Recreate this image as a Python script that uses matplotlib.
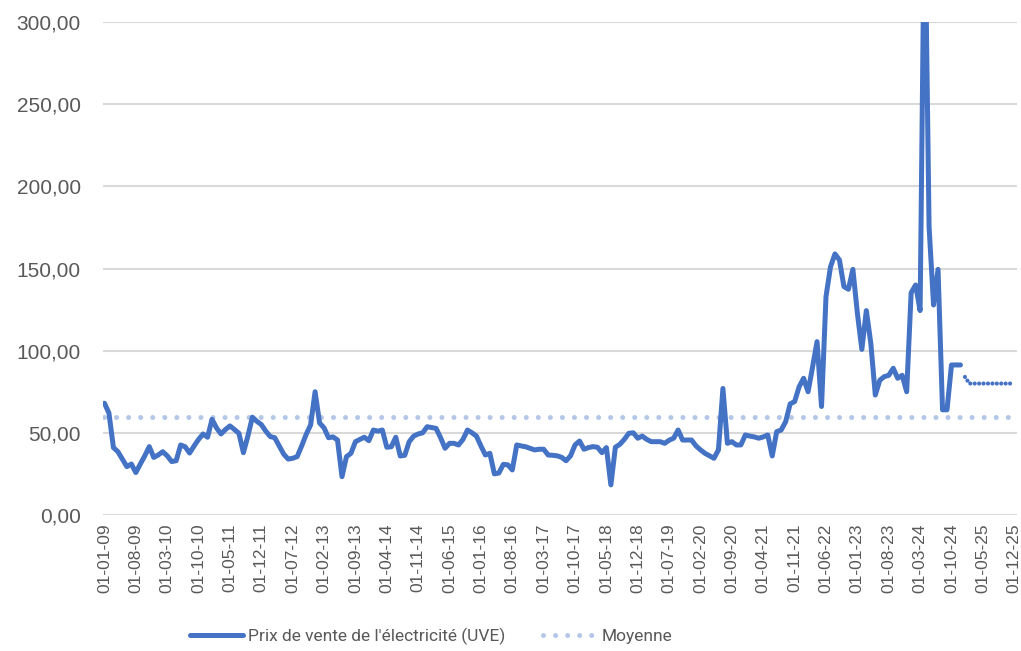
"""Prix de vente de l'électricité (UVE) - série mensuelle avec moyenne."""

import matplotlib.pyplot as plt

# Monthly prices, one row per year (01-2009 .. 12-2024)
prix = [
    68, 62, 41, 38.5, 34, 29.4, 31, 25.8, 31, 36, 41.6, 35,  # 2009
    36.5, 38.5, 36, 32.5, 33, 42.6, 41.5, 37.7, 42, 46, 49.3, 47.3,  # 2010
    58.2, 53, 49.3, 52, 54.2, 52, 49.7, 37.9, 48, 59.5, 57, 55,  # 2011
    51, 47.7, 47, 42, 37, 34, 34.5, 35.5, 42, 49, 54.8, 75,  # 2012
    56, 53, 47, 47.5, 45.6, 23.3, 35.5, 37.5, 44.6, 46, 47.3, 45.2,  # 2013
    51.7, 51, 51.7, 41.2, 41.5, 47.3, 35.9, 36.3, 44.6, 48, 49.3, 50,  # 2014
    53.7, 53.2, 52.7, 47, 40.6, 43.6, 43.6, 42.6, 46, 51.7, 50, 48,  # 2015
    42, 36.5, 37.5, 25, 25.5, 30.8, 30.5, 27.4, 42.6, 42, 41.5, 40.5,  # 2016
    39.6, 40, 40, 36.5, 36.3, 36, 35.1, 33, 36, 42.6, 45, 40,  # 2017
    41, 41.6, 41.2, 37.9, 41, 18.3, 41.2, 43, 46, 49.7, 50, 46.7,  # 2018
    48, 46, 44.6, 44.6, 44.6, 43.6, 45.5, 46.7, 51.7, 45.6, 45.6, 45.6,  # 2019
    42, 39.6, 37.5, 36, 34.5, 39.6, 77, 43.6, 44.6, 42.6, 42.6, 48.7,  # 2020
    48, 47.5, 46.7, 47.5, 48.7, 35.9, 50.7, 51.7, 56.8, 67.6, 69, 78,  # 2021
    83.2, 75, 90, 105.5, 66, 132.9, 151, 158.9, 155.2, 139, 137.4, 149.5,  # 2022
    122.8, 100.8, 124.4, 104.5, 73, 82, 84.2, 85, 89.3, 83.2, 85, 75,  # 2023
    135.3, 140, 124.4, 380, 175.5, 127.8, 149.5, 64, 64, 91.3, 91.3, 91.3,  # 2024
]

# Projection 01-2025 .. 12-2025
projection = [84, 80, 80, 80, 80, 80, 80, 80, 80, 80, 80, 80]

moyenne = 59.6

tick_labels = [
    "01-01-09", "01-08-09", "01-03-10", "01-10-10", "01-05-11", "01-12-11",
    "01-07-12", "01-02-13", "01-09-13", "01-04-14", "01-11-14", "01-06-15",
    "01-01-16", "01-08-16", "01-03-17", "01-10-17", "01-05-18", "01-12-18",
    "01-07-19", "01-02-20", "01-09-20", "01-04-21", "01-11-21", "01-06-22",
    "01-01-23", "01-08-23", "01-03-24", "01-10-24", "01-05-25", "01-12-25",
]
tick_step = 7  # months between labels

BLUE = "#4472C4"
LIGHT_BLUE = "#B4C7E7"
GREY = "#595959"
GRID = "#D9D9D9"

n_total = len(prix) + len(projection)
x_prix = list(range(len(prix)))
x_proj = list(range(len(prix), n_total))
x_all = list(range(n_total))

fig = plt.figure(figsize=(10.21, 6.51), dpi=100)
ax = fig.add_axes([0.101, 0.209, 0.895, 0.757])

ax.plot(x_all, [moyenne] * n_total, color=LIGHT_BLUE, lw=3.6,
        linestyle=(0, (0.01, 2.4)), dash_capstyle="round", label="Moyenne", zorder=2)
ax.plot(x_prix, prix, color=BLUE, lw=3.6, solid_joinstyle="round",
        solid_capstyle="round", label="Prix de vente de l'électricité (UVE)", zorder=3)
ax.plot(x_proj, projection, color=BLUE, lw=3.0,
        linestyle=(0, (0.01, 1.05)), dash_capstyle="round", zorder=3)

ax.set_ylim(0, 300)
ax.set_xlim(-0.3, n_total - 1 + 0.6)
ax.set_yticks(range(0, 301, 50))
ax.set_yticklabels([f"{v},00" for v in range(0, 301, 50)])
ax.set_xticks(range(0, n_total, tick_step))
ax.set_xticklabels(tick_labels, rotation=90)

ax.grid(axis="y", color=GRID, lw=1.5)
ax.set_axisbelow(True)
for side in ["top", "right", "left", "bottom"]:
    ax.spines[side].set_visible(False)
ax.tick_params(axis="both", length=0, colors=GREY)
ax.tick_params(axis="y", labelsize=15, pad=16)
ax.tick_params(axis="x", labelsize=12.5, pad=6)
for lab in ax.get_xticklabels() + ax.get_yticklabels():
    lab.set_fontfamily("Liberation Sans")
    lab.set_color(GREY)

handles, labels = ax.get_legend_handles_labels()
order = [1, 0]
leg = fig.legend(
    [handles[i] for i in order], [labels[i] for i in order],
    loc="center", bbox_to_anchor=(0.422, 0.022), ncol=2, frameon=False,
    handlelength=3.1, handletextpad=0.25, columnspacing=2.2,
    prop={"family": "Roboto", "size": 12.5},
)
for t in leg.get_texts():
    t.set_color(GREY)

fig.savefig("out.png", dpi=100)
